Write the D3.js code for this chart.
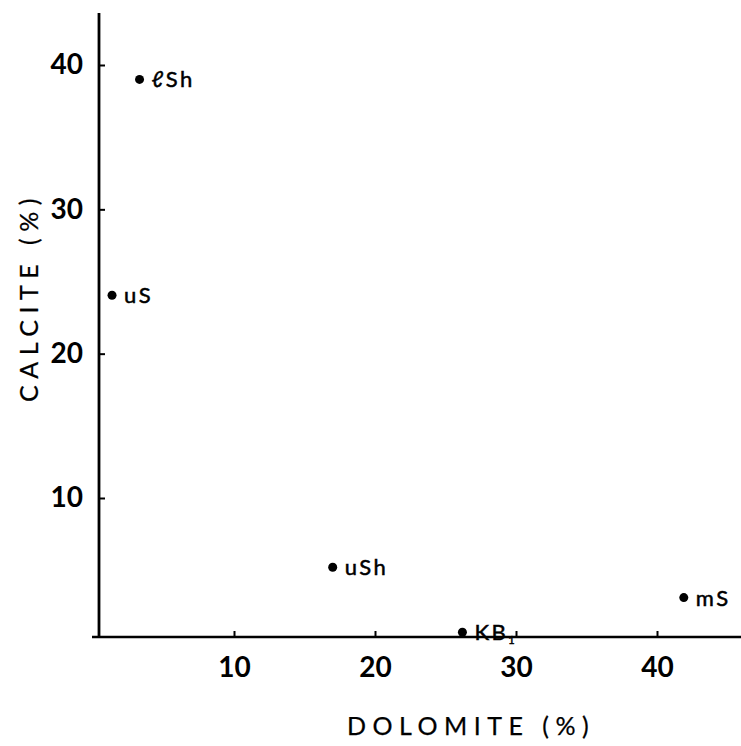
<!DOCTYPE html>
<html>
<head>
<meta charset="utf-8">
<script src="https://cdn.jsdelivr.net/npm/d3@7"></script>
<style>
  html, body { margin: 0; padding: 0; background: #fff; }
  svg { display: block; }
</style>
</head>
<body>
<div id="chart"></div>
<script>
// Data
const samples   = ["ℓSh", "uS", "uSh", "KB", "mS"];
const dolomite  = [3.3, 1.35, 17.0, 26.2, 41.9];
const calcite   = [39.0, 24.05, 5.2, 0.7, 3.1];
const xTicks    = [10, 20, 30, 40];
const yTicks    = [10, 20, 30, 40];
const xTitle    = "DOLOMITE (%)";
const yTitle    = "CALCITE (%)";

const W = 741, H = 746;
const svg = d3.select("#chart").append("svg")
  .attr("width", W).attr("height", H);

const x = d3.scaleLinear().domain([10, 40]).range([234, 657]);
const y = d3.scaleLinear().domain([10, 40]).range([498, 65]);

const axisX0 = 99;   // pixel position of y axis
const axisY0 = 637;  // pixel position of x axis
const fontNum = "Lato, 'DejaVu Sans', sans-serif";

// X axis
const gx = svg.append("g").attr("transform", `translate(0,${axisY0})`);
gx.call(d3.axisBottom(x).tickValues(xTicks).tickSize(-6).tickPadding(27).tickFormat(d3.format("d")));
gx.select(".domain").remove();
gx.append("line").attr("x1", 92).attr("x2", 741).attr("y1", 0).attr("y2", 0)
  .attr("stroke", "#000").attr("stroke-width", 2.6);
gx.selectAll(".tick line").attr("stroke", "#000").attr("stroke-width", 2);
gx.selectAll(".tick text").attr("fill", "#000").attr("font-family", fontNum)
  .attr("font-size", 28).attr("font-weight", 700).attr("dy", "0.45em");

// Y axis
const gy = svg.append("g").attr("transform", `translate(${axisX0},0)`);
gy.call(d3.axisLeft(y).tickValues(yTicks).tickSize(-6).tickPadding(16).tickFormat(d3.format("d")));
gy.select(".domain").remove();
gy.append("line").attr("x1", 0).attr("x2", 0).attr("y1", 13).attr("y2", axisY0 + 1)
  .attr("stroke", "#000").attr("stroke-width", 2.8);
gy.selectAll(".tick line").attr("stroke", "#000").attr("stroke-width", 2);
gy.selectAll(".tick text").attr("fill", "#000").attr("font-family", fontNum)
  .attr("font-size", 28).attr("font-weight", 700);

// Axis titles
svg.append("text").attr("x", 471).attr("y", 735).attr("text-anchor", "middle")
  .attr("font-family", fontNum).attr("font-size", 25).attr("letter-spacing", 6.5)
  .attr("fill", "#000").attr("stroke", "#000").attr("stroke-width", 0.25).text(xTitle);
svg.append("text").attr("transform", `translate(38,297) rotate(-90)`).attr("text-anchor", "middle")
  .attr("font-family", fontNum).attr("font-size", 25).attr("letter-spacing", 6.5)
  .attr("fill", "#000").attr("stroke", "#000").attr("stroke-width", 0.25).text(yTitle);

// Points
const pts = samples.map((s, i) => ({ s, dx: dolomite[i], ca: calcite[i] }));
svg.selectAll("circle.pt").data(pts).enter().append("circle")
  .attr("class", "pt")
  .attr("cx", d => x(d.dx)).attr("cy", d => y(d.ca)).attr("r", 4.5).attr("fill", "#000");

const lbl = svg.selectAll("text.lbl").data(pts).enter().append("text")
  .attr("class", "lbl")
  .attr("x", d => x(d.dx) + 12).attr("y", d => y(d.ca) + 8)
  .attr("font-family", fontNum).attr("font-size", 22).attr("letter-spacing", 2.5)
  .attr("fill", "#000").attr("stroke", "#000").attr("stroke-width", 0.5);
lbl.append("tspan").text(d => d.s);
lbl.filter(d => d.s === "KB").append("tspan")
  .attr("font-size", 11).attr("dy", 4).attr("dx", 0).text("1");
</script>
</body>
</html>
